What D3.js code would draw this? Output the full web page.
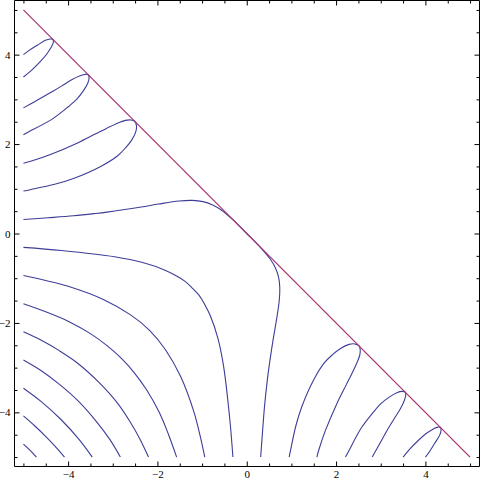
<!DOCTYPE html>
<html lang="en">
<head>
<meta charset="UTF-8">
<title>Cos[x y] == Exp[x + y]</title>
<script src="https://cdn.jsdelivr.net/npm/d3@7"></script>
<style>
    body { margin: 0; background: #fff; }
    .contour { fill: none; stroke: #3d3d99; stroke-width: 1.1px; }
    .bound { fill: none; stroke: #a3306f; stroke-width: 1.2px; }
    .frame line { stroke: #000; stroke-width: 1px; }
    .tick line { stroke: #000; }
    .tick text { font-family: "Liberation Serif", serif; font-size: 11px; fill: #000; }
</style>
</head>
<body>
<script>
    // tick positions / labels
    const majorTicks = [-4, -2, 0, 2, 4];
    const majorLabels = ["\u22124", "\u22122", "0", "2", "4"];
    const minorTicks = [-5, -4.5, -3.5, -3, -2.5, -1.5, -1, -0.5, 0.5, 1, 1.5, 2.5, 3, 3.5, 4.5, 5];

    // the straight line x + y = 0
    const boundary = [[-5, 5], [5, -5]];

    // loops upper left (touch the line)
    const loopA = [[-5.00, 4.00], [-4.88, 4.09], [-4.69, 4.21], [-4.51, 4.32], [-4.40, 4.35], [-4.34, 4.34],
        [-4.33, 4.28], [-4.37, 4.18], [-4.48, 4.01], [-4.63, 3.84], [-4.81, 3.66], [-5.00, 3.50]];
    const loopB = [[-5.00, 2.81], [-4.73, 2.96], [-4.34, 3.18], [-4.11, 3.32], [-3.92, 3.44], [-3.73, 3.53],
        [-3.61, 3.56], [-3.55, 3.55], [-3.53, 3.48], [-3.56, 3.36], [-3.66, 3.19], [-3.80, 3.01], [-3.99, 2.84],
        [-4.34, 2.57], [-4.91, 2.26], [-5.00, 2.21]];
    const loopC = [[-5.00, 1.57], [-4.82, 1.62], [-4.41, 1.76], [-3.80, 2.02], [-3.38, 2.23], [-3.14, 2.35],
        [-2.93, 2.45], [-2.72, 2.53], [-2.59, 2.54], [-2.51, 2.51], [-2.47, 2.42], [-2.48, 2.29], [-2.57, 2.10],
        [-2.71, 1.92], [-2.89, 1.74], [-3.27, 1.50], [-3.88, 1.23], [-4.30, 1.10], [-4.85, 0.98], [-5.00, 0.95]];

    // loops lower right
    const loopA2 = [[4.00, -5.00], [4.09, -4.88], [4.21, -4.69], [4.32, -4.51], [4.35, -4.40], [4.34, -4.34],
        [4.28, -4.33], [4.18, -4.37], [4.01, -4.48], [3.84, -4.63], [3.66, -4.81], [3.50, -5.00]];
    const loopB2 = [[2.81, -5.00], [2.96, -4.73], [3.18, -4.34], [3.32, -4.11], [3.44, -3.92], [3.53, -3.73],
        [3.56, -3.61], [3.55, -3.55], [3.48, -3.53], [3.36, -3.56], [3.19, -3.66], [3.01, -3.80], [2.84, -3.99],
        [2.57, -4.34], [2.26, -4.91], [2.21, -5.00]];
    const loopC2 = [[1.57, -5.00], [1.62, -4.82], [1.76, -4.41], [2.02, -3.80], [2.23, -3.38], [2.35, -3.14],
        [2.45, -2.93], [2.53, -2.72], [2.54, -2.59], [2.51, -2.51], [2.42, -2.47], [2.29, -2.48], [2.10, -2.57],
        [1.92, -2.71], [1.74, -2.89], [1.50, -3.27], [1.23, -3.88], [1.10, -4.30], [0.98, -4.85], [0.95, -5.00]];

    // the curve that runs along the line near the origin
    const curveD = [[-5.000, 0.312], [-4.450, 0.352], [-3.878, 0.397], [-3.424, 0.444], [-3.129, 0.479],
        [-2.364, 0.592], [-1.977, 0.658], [-1.516, 0.726], [-1.216, 0.740], [-0.981, 0.713], [-0.775, 0.645],
        [-0.571, 0.525], [-0.319, 0.314], [0, 0],
        [0.314, -0.319], [0.525, -0.571], [0.645, -0.775], [0.713, -0.981], [0.740, -1.216], [0.726, -1.516],
        [0.658, -1.977], [0.592, -2.364], [0.479, -3.129], [0.444, -3.424], [0.397, -3.878], [0.352, -4.450],
        [0.312, -5.000]];

    // arcs in the lower left corner
    const arcE = [[-5.00, -0.31], [-4.15, -0.38], [-2.96, -0.52], [-2.33, -0.65], [-1.83, -0.82], [-1.57, -0.95],
        [-1.38, -1.07], [-1.22, -1.22], [-1.07, -1.38], [-0.95, -1.57], [-0.82, -1.83], [-0.65, -2.33],
        [-0.52, -2.96], [-0.38, -4.15], [-0.31, -5.00]];
    const arcF = [[-5.00, -0.94], [-4.50, -1.05], [-4.00, -1.18], [-3.20, -1.48], [-2.60, -1.82], [-2.17, -2.17],
        [-1.82, -2.60], [-1.48, -3.20], [-1.18, -4.00], [-1.05, -4.50], [-0.94, -5.00]];
    const arcG = [[-5.00, -1.57], [-4.50, -1.75], [-4.00, -1.96], [-3.50, -2.24], [-3.10, -2.53], [-2.80, -2.80],
        [-2.53, -3.10], [-2.24, -3.50], [-1.96, -4.00], [-1.75, -4.50], [-1.57, -5.00]];
    const arcH = [[-5.00, -2.20], [-4.60, -2.39], [-4.20, -2.62], [-3.80, -2.89], [-3.32, -3.32], [-2.89, -3.80],
        [-2.62, -4.20], [-2.39, -4.60], [-2.20, -5.00]];
    const arcI = [[-5.00, -2.83], [-4.60, -3.07], [-4.20, -3.37], [-3.76, -3.76], [-3.37, -4.20], [-3.07, -4.60],
        [-2.83, -5.00]];
    const arcJ = [[-5.00, -3.46], [-4.60, -3.76], [-4.16, -4.16], [-3.76, -4.60], [-3.46, -5.00]];
    const arcK = [[-5.00, -4.08], [-4.75, -4.30], [-4.52, -4.52], [-4.30, -4.75], [-4.08, -5.00]];
    const arcL = [[-5.00, -4.71], [-4.85, -4.85], [-4.71, -5.00]];

    const contours = [loopA, loopB, loopC, loopA2, loopB2, loopC2, curveD,
        arcE, arcF, arcG, arcH, arcI, arcJ, arcK, arcL];

    const width = 481, height = 480;
    const frameL = 14.5, frameR = 479.5, frameT = 0.5, frameB = 466.5;

    const x = d3.scaleLinear().domain([-5.2, 5.2]).range([14.5, 479]);
    const y = d3.scaleLinear().domain([-5.2, 5.2]).range([466, 1]);

    const svg = d3.select("body").append("svg").attr("width", width).attr("height", height);

    const line = d3.line()
        .x(d => x(d[0]))
        .y(d => y(d[1]))
        .curve(d3.curveCatmullRom.alpha(0.5));

    svg.append("g").selectAll("path").data(contours)
        .join("path")
        .attr("class", "contour")
        .attr("d", line);

    svg.append("path").datum(boundary)
        .attr("class", "bound")
        .attr("d", d3.line().x(d => x(d[0])).y(d => y(d[1])));

    // frame ticks, pointing inward
    const majorLen = 5, minorLen = 3;
    function addAxis(axisFn, transform, labels) {
        const g = svg.append("g").attr("transform", transform);
        const sc = (axisFn === d3.axisBottom || axisFn === d3.axisTop) ? x : y;
        g.call(axisFn(sc).tickValues(majorTicks).tickSize(-majorLen).tickPadding(4)
            .tickFormat(labels ? (d, i) => majorLabels[i] : ""));
        g.append("g").call(axisFn(sc).tickValues(minorTicks).tickSize(-minorLen).tickFormat(""));
        g.selectAll(".domain").remove();
        return g;
    }
    addAxis(d3.axisBottom, `translate(0,${frameB})`, true);
    addAxis(d3.axisTop, `translate(0,${frameT})`, false);
    addAxis(d3.axisLeft, `translate(${frameL},0)`, true);
    addAxis(d3.axisRight, `translate(${frameR},0)`, false);

    const frame = svg.append("g").attr("class", "frame");
    frame.append("line").attr("x1", frameL).attr("x2", frameR).attr("y1", frameT).attr("y2", frameT);
    frame.append("line").attr("x1", frameL).attr("x2", frameR).attr("y1", frameB).attr("y2", frameB);
    frame.append("line").attr("x1", frameL).attr("x2", frameL).attr("y1", frameT).attr("y2", frameB);
    frame.append("line").attr("x1", frameR).attr("x2", frameR).attr("y1", frameT).attr("y2", frameB);
</script>
</body>
</html>
